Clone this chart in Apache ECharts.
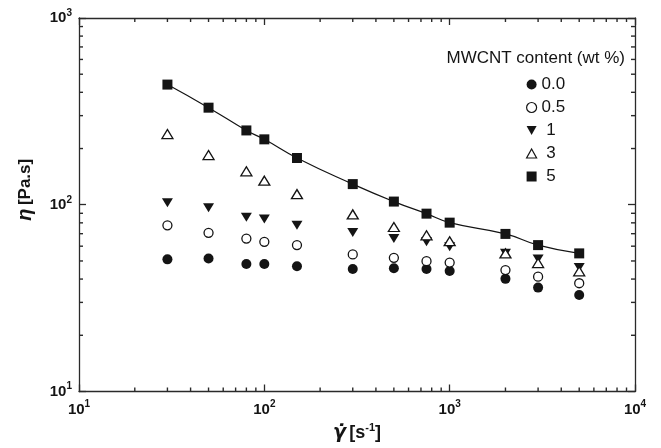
<!DOCTYPE html>
<html>
<head>
<meta charset="utf-8">
<script src="https://cdn.jsdelivr.net/npm/echarts@6/dist/echarts.min.js"></script>
<style>html,body{margin:0;padding:0;background:#fff}#c{width:661px;height:448px}</style>
</head>
<body>
<div id="c"></div>
<script>
const shearRates = [30, 50, 80, 100, 150, 300, 500, 750, 1000, 2000, 3000, 5000];
const eta0 = [51.0, 51.6, 48.2, 48.2, 46.8, 45.3, 45.7, 45.3, 44.2, 40.1, 36.0, 32.9];
const eta05 = [77.6, 70.7, 65.9, 63.3, 60.8, 54.2, 52.0, 49.9, 49.0, 44.7, 41.2, 38.0];
const eta1 = [102.5, 96.4, 85.6, 83.9, 77.6, 71.0, 65.9, 63.3, 59.6, 55.0, 51.2, 46.2];
const eta3 = [239, 184.5, 151, 134.6, 114, 88.8, 76.0, 68.6, 63.8, 54.9, 48.7, 44.0];
const eta5 = [440, 331, 250, 224, 178, 129, 104, 89.6, 80.2, 69.8, 60.8, 54.9];
const seriesNames = ['0.0', '0.5', '1', '3', '5'];

const X_MIN = 10, X_MAX = 10000, Y_MIN = 10, Y_MAX = 1000;

// minor tick values 2..9 × each decade
function minorVals(lo, hi) {
  const out = [];
  for (let d = lo; d < hi; d *= 10) for (let k = 2; k <= 9; k++) out.push(k * d);
  return out;
}
const minorX = minorVals(X_MIN, X_MAX);
const minorY = minorVals(Y_MIN, Y_MAX);

const FONT = 'Liberation Sans, Arial, sans-serif';
const INK = '#141414';
const AX = '#2a2a2a';
const MINOR_LEN = 4;

function pts(ys) { return shearRates.map((x, i) => [x, ys[i]]); }

const labelRich = {
  b: { fontSize: 15, fontWeight: 'bold', fontFamily: FONT, color: INK },
  s: { fontSize: 10, fontWeight: 'bold', fontFamily: FONT, color: INK, padding: [0, 0, 10, 0] }
};
function powLabel(v) {
  const e = Math.round(Math.log10(v));
  return '{b|10}{s|' + e + '}';
}

const noGrid = { splitLine: { show: false }, minorTick: { show: false }, minorSplitLine: { show: false } };

function majorAxis(pos, min, max, extra) {
  return Object.assign({
    type: 'log', logBase: 10, gridIndex: 0, min: min, max: max, position: pos,
    axisLine: { show: true, lineStyle: { color: AX, width: 1.3 } },
    axisTick: { show: true, inside: true, length: 7, lineStyle: { color: AX, width: 1.3 } },
    axisLabel: { show: false }
  }, noGrid, extra || {});
}

const xAxes = [
  majorAxis('bottom', X_MIN, X_MAX, {
    axisLabel: { show: true, margin: 8, formatter: powLabel, rich: labelRich },
    name: '{g|γ̇} {t|[s}{s|-1}{t|]}', nameLocation: 'middle', nameGap: 31,
    nameTextStyle: { rich: {
      g: { fontSize: 19, fontWeight: 'bold', fontStyle: 'italic', fontFamily: 'DejaVu Sans', color: INK },
      t: { fontSize: 18, fontWeight: 'bold', fontFamily: FONT, color: INK },
      s: { fontSize: 11, fontWeight: 'bold', fontFamily: FONT, color: INK, padding: [0, 0, 11, 0] }
    } }
  }),
  majorAxis('top', X_MIN, X_MAX)
];

const yAxes = [
  majorAxis('left', Y_MIN, Y_MAX, {
    axisLabel: { show: true, margin: 7, formatter: powLabel, rich: labelRich },
    name: '{e|η} {t|[Pa.s]}', nameLocation: 'middle', nameGap: 44, nameRotate: 90,
    nameTextStyle: { padding: [0, 0, 0, 30], rich: {
      e: { fontSize: 20, fontWeight: 'bold', fontStyle: 'italic', fontFamily: FONT, color: INK },
      t: { fontSize: 17, fontWeight: 'bold', fontFamily: FONT, color: INK }
    } }
  }),
  majorAxis('right', Y_MIN, Y_MAX)
];

function tickLine(x1, y1, x2, y2) {
  return { type: 'line', shape: { x1: x1, y1: y1, x2: x2, y2: y2 },
    style: { stroke: AX, lineWidth: 1.4 } };
}

const chart = echarts.init(document.getElementById('c'), null, { renderer: 'canvas' });
chart.setOption({
  animation: false,
  backgroundColor: '#fff',
  textStyle: { fontFamily: FONT },
  grid: { left: 79, right: 26, top: 18, bottom: 54, containLabel: false },
  title: {
    text: 'MWCNT content (wt %)', right: 31, top: 45,
    textStyle: { fontSize: 17, fontWeight: 'normal', fontFamily: FONT, color: INK }
  },
  legend: {
    orient: 'vertical', left: 526, top: 76, padding: 0, itemWidth: 10, itemHeight: 10, itemGap: 6,
    formatter: n => (n.length === 1 ? ' ' + n : n),
    textStyle: { fontSize: 17, fontFamily: FONT, color: INK },
    data: [
      { name: '0.0' },
      { name: '0.5', itemStyle: { borderWidth: 1.2 } },
      { name: '1', icon: 'path://M0,0 L10,0 L5,9 Z' },
      { name: '3', icon: 'path://M5,0 L10,9 L0,9 Z', itemStyle: { borderWidth: 1.2 } },
      { name: '5', icon: 'rect' }
    ]
  },
  xAxis: xAxes,
  yAxis: yAxes,
  series: [
    { type: 'custom', clip: false, z: 1,
      data: minorX.map(v => [v, Y_MIN]),
      encode: { x: 0, y: 1 },
      renderItem: function (params, api) {
        const v = api.value(0);
        const b = api.coord([v, Y_MIN]);
        const t = api.coord([v, Y_MAX]);
        return { type: 'group', children: [
          tickLine(b[0], b[1], b[0], b[1] - MINOR_LEN),
          tickLine(t[0], t[1], t[0], t[1] + MINOR_LEN)
        ] };
      } },
    { type: 'custom', clip: false, z: 1,
      data: minorY.map(v => [X_MIN, v]),
      encode: { x: 0, y: 1 },
      renderItem: function (params, api) {
        const v = api.value(1);
        const l = api.coord([X_MIN, v]);
        const r = api.coord([X_MAX, v]);
        return { type: 'group', children: [
          tickLine(l[0], l[1], l[0] + MINOR_LEN, l[1]),
          tickLine(r[0], r[1], r[0] - MINOR_LEN, r[1])
        ] };
      } },
    { name: seriesNames[0], type: 'scatter', data: pts(eta0), symbol: 'circle', symbolSize: 10,
      itemStyle: { color: INK, opacity: 1 } },
    { name: seriesNames[1], type: 'scatter', data: pts(eta05), symbol: 'circle', symbolSize: 9,
      itemStyle: { color: '#fff', borderColor: INK, borderWidth: 1.3, opacity: 1 } },
    { name: seriesNames[2], type: 'scatter', data: pts(eta1), symbol: 'triangle', symbolRotate: 180,
      symbolSize: [11, 9], itemStyle: { color: INK, opacity: 1 } },
    { name: seriesNames[3], type: 'scatter', data: pts(eta3), symbol: 'triangle',
      symbolSize: [11, 9], itemStyle: { color: '#fff', borderColor: INK, borderWidth: 1.3, opacity: 1 } },
    { name: seriesNames[4], type: 'line', data: pts(eta5), smooth: 0.5, symbol: 'rect', symbolSize: 10,
      showSymbol: true, lineStyle: { color: INK, width: 1.2 }, itemStyle: { color: INK, opacity: 1 }, z: 3 }
  ]
});
</script>
</body>
</html>
